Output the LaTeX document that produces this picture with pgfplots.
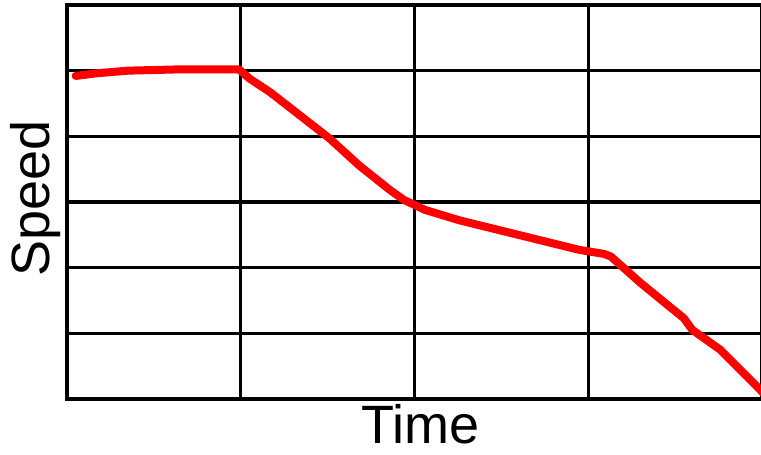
\documentclass[border=0pt]{standalone}
\usepackage{pgfplots}
\pgfplotsset{compat=1.18}
\usepackage{fontspec}
\setmainfont{Liberation Sans}

\begin{document}
\begin{tikzpicture}
% image is 761x455 px, 1px = 0.5pt
\useasboundingbox (0,0) rectangle (380.5pt,227.5pt);
\begin{axis}[
    at={(33.5pt,28pt)}, anchor=south west,
    scale only axis,
    width=347.5pt, height=197pt,
    xmin=0, xmax=4, ymin=0, ymax=6,
    xtick={0,1,2,3,4}, ytick={0,1,2,3,4,5,6},
    xticklabels={}, yticklabels={},
    major tick length=0pt,
    grid=major,
    major grid style={black, line width=1.7pt},
    axis line style={black, line width=1.7pt},
    xlabel={Time}, ylabel={Speed},
    label style={font=\fontsize{27}{30}\selectfont},
    xlabel style={at={(axis description cs:0.509,0)}, anchor=base, yshift=-22.5pt,
        text depth=0pt, inner sep=0pt},
    ylabel style={at={(axis description cs:-0.0245,0.51)}, anchor=base},
    clip=true,
]
\addplot[red, line width=4pt, line cap=round, line join=round] coordinates {
    (0.05,4.92) (0.17,4.96) (0.35,5.0) (0.65,5.02) (0.99,5.02)
    (1.05,4.88) (1.17,4.67) (1.34,4.32) (1.51,3.97) (1.68,3.56)
    (1.86,3.18) (1.94,3.03) (2.06,2.88) (2.26,2.72) (2.49,2.57)
    (2.72,2.42) (2.95,2.27) (3.09,2.21) (3.13,2.17) (3.30,1.77)
    (3.55,1.23) (3.60,1.05) (3.76,0.75) (3.99,0.14) (4.02,0.05)
};
\end{axis}
\end{tikzpicture}
\end{document}
